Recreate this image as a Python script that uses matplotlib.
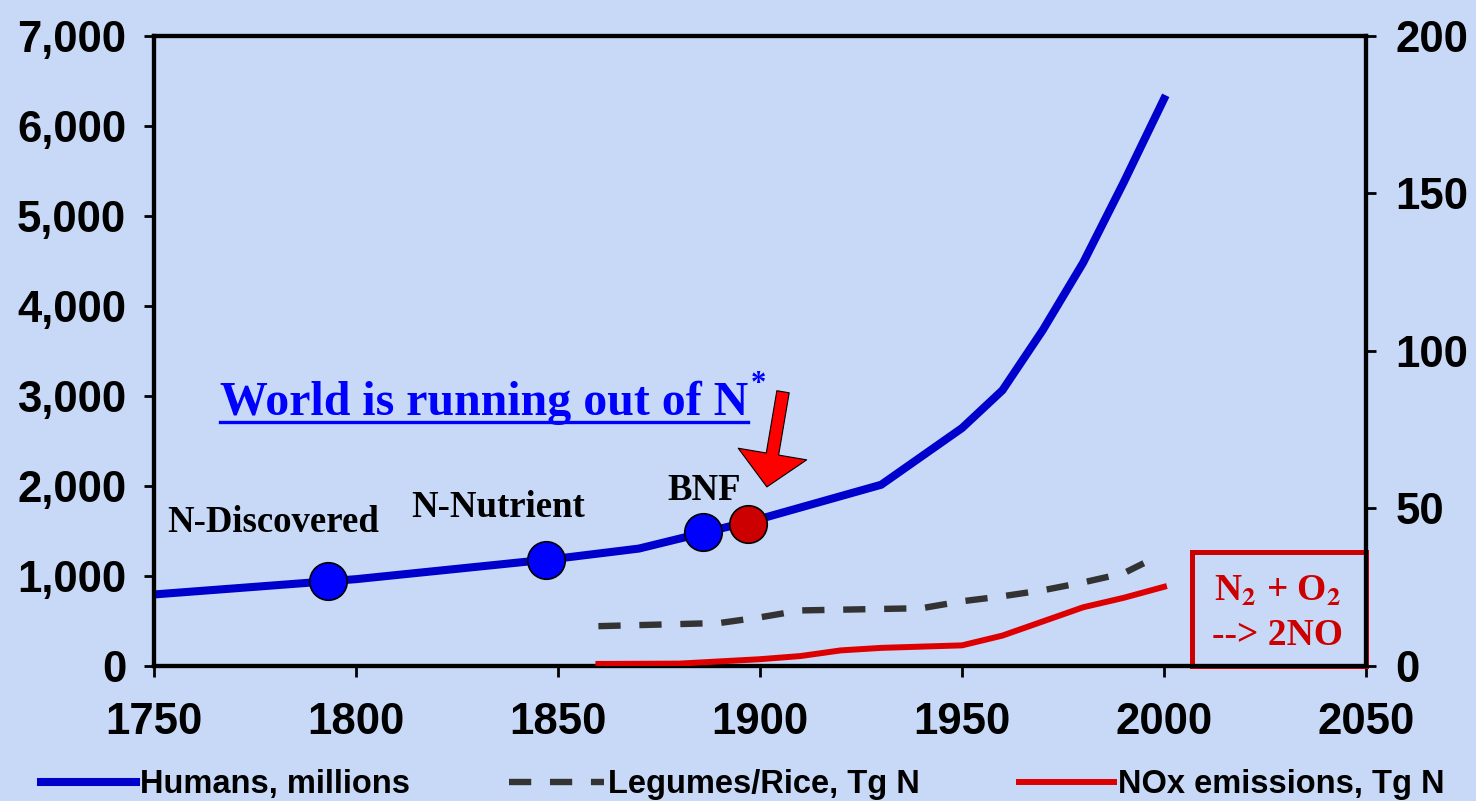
import matplotlib
matplotlib.use("Agg")
import matplotlib.pyplot as plt
from matplotlib.lines import Line2D
from matplotlib.patches import Rectangle
from matplotlib.ticker import FuncFormatter

# data
years_hum = [1750, 1800, 1850, 1870, 1900, 1930, 1950, 1960, 1970, 1980, 1990, 2000]
humans = [790, 960, 1190, 1300, 1630, 2010, 2640, 3060, 3730, 4480, 5370, 6300]

years_leg = [1860, 1890, 1900, 1910, 1940, 1950, 1960, 1970, 1980, 1990, 1995]
legumes = [12.5, 13.5, 15.3, 17.5, 18.2, 20.4, 22.0, 23.9, 26.4, 29.3, 32.5]

years_nox = [1860, 1880, 1900, 1910, 1920, 1930, 1950, 1960, 1980, 1990, 2000]
nox = [0.5, 0.6, 2.0, 3.0, 4.8, 5.6, 6.4, 9.5, 18.5, 21.5, 25.0]

event_years = [1793, 1847, 1886]
event_vals = [936, 1170, 1483]
event_labels = ["N-Discovered", "N-Nutrient", "BNF"]
haber_year = 1897
haber_val = 1572

x_ticks = [1750, 1800, 1850, 1900, 1950, 2000, 2050]
left_ticks = [0, 1000, 2000, 3000, 4000, 5000, 6000, 7000]
right_ticks = [0, 50, 100, 150, 200]

bg = "#c8d9f7"
plt.rcParams["lines.scale_dashes"] = False
plt.rcParams["mathtext.fontset"] = "stix"
plt.rcParams["mathtext.default"] = "bf"

fig = plt.figure(figsize=(14.76, 8.01), dpi=100, facecolor=bg)
ax = fig.add_axes([154 / 1476, 135.5 / 801, 1212 / 1476, 629.5 / 801])
ax.set_facecolor("none")
ax2 = ax.twinx()
ax2.set_facecolor("none")

ax.set_xlim(1750, 2050)
ax.set_ylim(0, 7000)
ax2.set_ylim(0, 200)

tickfont = dict(family="Liberation Sans", weight="bold", size=31.5)
ax.set_xticks(x_ticks)
ax.set_yticks(left_ticks)
ax2.set_yticks(right_ticks)
ax.yaxis.set_major_formatter(FuncFormatter(lambda v, p: f"{int(v):,}"))
for lab in ax.get_xticklabels() + ax.get_yticklabels() + ax2.get_yticklabels():
    lab.set_fontproperties(tickfont)
ax.tick_params(axis="y", length=7, width=2, pad=13)
ax.tick_params(axis="x", length=8, width=2, pad=18)
ax2.tick_params(axis="y", length=7, width=2, pad=14)
for a in (ax, ax2):
    for s in a.spines.values():
        s.set_linewidth(3)
        s.set_color("black")

# lines
h_line, = ax.plot(years_hum, humans, color="#0000cc", lw=5.8, solid_joinstyle="miter",
                  label="Humans, millions", zorder=4)
l_line, = ax2.plot(years_leg, legumes, color="#333333", lw=4.6, dashes=(16, 13.5),
                   label="Legumes/Rice, Tg N", zorder=3)
n_line, = ax2.plot(years_nox, nox, color="#dd0000", lw=4.3, label="NOx emissions, Tg N", zorder=3)

ax2.plot(event_years, [v * 200 / 7000 for v in event_vals], "o", ms=27, mfc="#0000ff",
         mec="black", mew=1.2, zorder=6)
ax2.plot([haber_year], [haber_val * 200 / 7000], "o", ms=27, mfc="#cc0000",
         mec="black", mew=1.2, zorder=6)

labfont = dict(family="Liberation Serif", weight="bold", size=26.5, color="black")
ax.text(1753.2, 1486, event_labels[0], ha="left", va="baseline", **labfont)
ax.text(1813.6, 1653, event_labels[1], ha="left", va="baseline", **labfont)
ax.text(1877.0, 1842, event_labels[2], ha="left", va="baseline", **labfont)

title = ax.text(1766.3, 2788, "World is running out of N", ha="left", va="baseline",
                family="Liberation Serif", weight="bold", size=34.5, color="#0000ff")
ax.text(1897.8, 3044, "*", ha="left", va="baseline", family="Liberation Serif",
        weight="bold", size=22, color="#0000ff")

ax.annotate("", xy=(1901.7, 1986), xytext=(1905.7, 3044),
            arrowprops=dict(arrowstyle="simple,head_length=24,head_width=50,tail_width=9",
                            mutation_scale=1, fc="#ff0000", ec="black", lw=0.8,
                            shrinkA=0, shrinkB=0), zorder=7)

# reaction box
ax.add_patch(Rectangle((2006.9, 0), 2050 - 2006.9, 1263, fill=False, ec="#cc0000",
                       lw=3.6, clip_on=False, zorder=5))
boxfont = dict(family="Liberation Serif", weight="bold", size=27, color="#cc0000")
ax.text(2028, 718, "N$_2$ + O$_2$", ha="center", va="baseline", **boxfont)
ax.text(2028, 228, "--> 2NO", ha="center", va="baseline", **boxfont)

fig.legend(handles=[h_line, l_line, n_line], loc="lower left",
           bbox_to_anchor=(41 / 1476, 1 / 801), ncol=3, frameon=False,
           prop=dict(family="Liberation Sans", weight="bold", size=23.5),
           handlelength=2.9, handletextpad=0.12, columnspacing=3.05,
           borderpad=0, borderaxespad=0)

# underline the title
fig.canvas.draw()
bb = title.get_window_extent()
base_y = ax.transData.transform((1766.3, 2788))[1]
uy = base_y - 7
inv = fig.transFigure.inverted()
p0 = inv.transform((bb.x0, uy))
p1 = inv.transform((bb.x1, uy))
fig.add_artist(Line2D([p0[0], p1[0]], [p0[1], p1[1]], color="#0000ff", lw=2.4))

fig.savefig("out.png", dpi=100, facecolor=bg)
